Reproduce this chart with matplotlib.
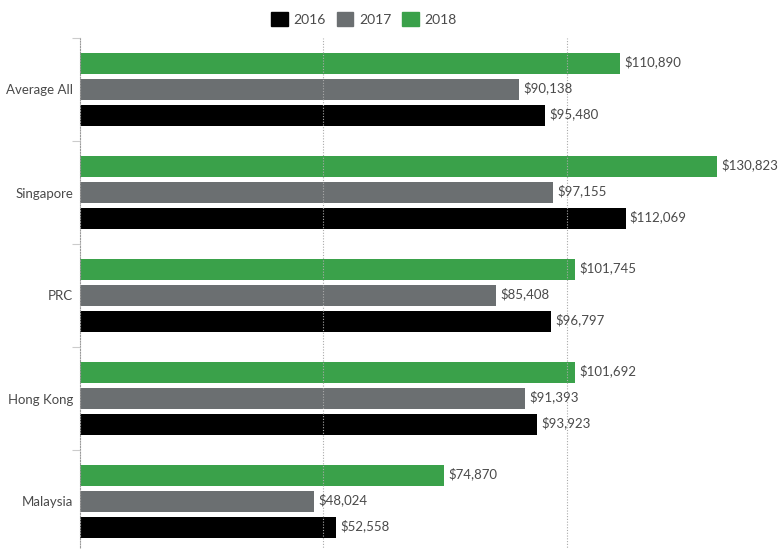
import matplotlib
matplotlib.use("Agg")
import matplotlib.pyplot as plt
import numpy as np
from matplotlib.patches import Patch

categories = ["Average All", "Singapore", "PRC", "Hong Kong", "Malaysia"]
years = ["2016", "2017", "2018"]
v2016 = [95480, 112069, 96797, 93923, 52558]
v2017 = [90138, 97155, 85408, 91393, 48024]
v2018 = [110890, 130823, 101745, 101692, 74870]
colors = {"2016": "#000000", "2017": "#6b6f71", "2018": "#3aa14a"}

plt.rcParams['font.family'] = ['Lato', 'DejaVu Sans']
fig = plt.figure(figsize=(7.81, 5.49), dpi=100)
ax = fig.add_axes([80/781, -4/549, 701/781, 515/549])

n = len(categories)
centers = np.arange(n)
step = 0.252
h = 0.204
series = [("2018", v2018, -step), ("2017", v2017, 0.0), ("2016", v2016, step)]
for yr, vals, off in series:
    bars = ax.barh(centers + off, vals, height=h, color=colors[yr], zorder=1)
    for b, v in zip(bars, vals):
        ax.annotate(f"${v:,.0f}", (b.get_width(), b.get_y() + b.get_height()/2),
                    xytext=(3, 1), textcoords="offset points", va="center", ha="left",
                    fontsize=9.5, color="#4a4a4a")

ax.set_xlim(0, 144000)
ax.set_ylim(n - 0.5, -0.5)
ax.set_xticks([50000, 100000])
ax.set_xticklabels([])
ax.tick_params(axis='x', length=0)
ax.grid(axis='x', linestyle=(0, (1, 1.5)), color="#aaaaaa", linewidth=0.8, zorder=3)
ax.set_axisbelow(False)

ax.set_yticks(np.arange(n + 1) - 0.5)
ax.set_yticklabels([])
ax.tick_params(axis='y', which='major', length=6, color="#cccccc", width=0.8)
ax.set_yticks(centers, minor=True)
ax.set_yticklabels(categories, minor=True, fontsize=9.5, color="#4a4a4a")
ax.tick_params(axis='y', which='minor', length=0, pad=5)

for s in ["top", "right", "bottom"]:
    ax.spines[s].set_visible(False)
ax.spines["left"].set_linestyle((0, (1, 1.5)))
ax.spines["left"].set_color("#999999")
ax.spines["left"].set_linewidth(0.8)

handles = [Patch(color=colors[y], label=y) for y in years]
fig.legend(handles=handles, loc="center", bbox_to_anchor=(364/781, 1 - 19/549), ncol=3,
           frameon=False, fontsize=10, handlelength=1.2, handleheight=1.2,
           handletextpad=0.4, columnspacing=0.8, labelcolor="#4a4a4a")

fig.savefig("out.png", dpi=100)
